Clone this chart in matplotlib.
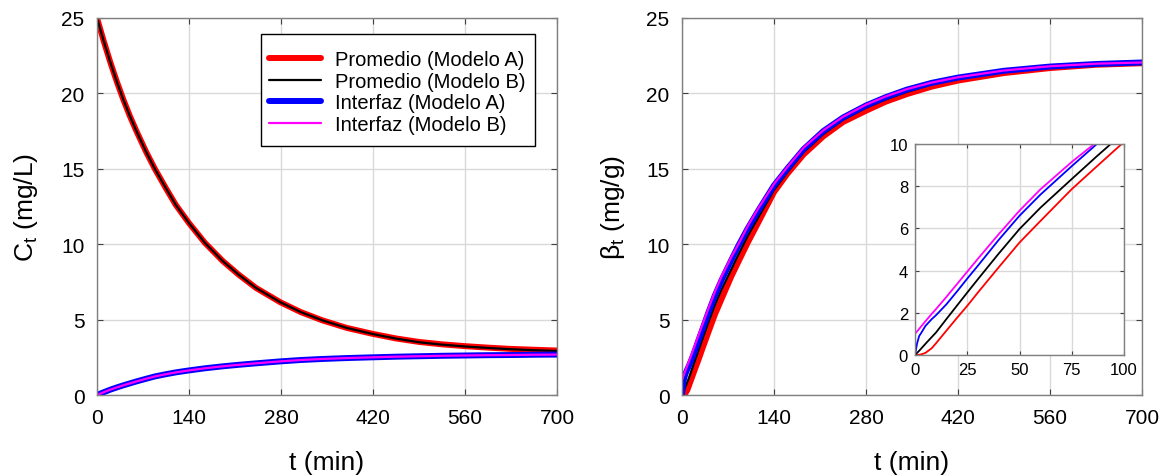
import matplotlib
matplotlib.use("Agg")
import matplotlib.pyplot as plt
from matplotlib.patches import Rectangle

plt.rcParams['font.family'] = ['Liberation Sans', 'DejaVu Sans']
plt.rcParams['mathtext.fontset'] = 'custom'
plt.rcParams['mathtext.rm'] = 'Liberation Sans'
plt.rcParams['mathtext.it'] = 'Liberation Sans'
plt.rcParams['mathtext.default'] = 'regular'

# ---------------- data ----------------
# Left panel: concentration C_t (mg/L)
t_left = [0, 10, 20, 30, 40, 50, 60, 75, 88, 105, 120, 140, 164, 191, 215, 242,
          279, 310, 343, 380, 420, 455, 490, 525, 560, 595, 628, 665, 700]
c_prom_A = [25.0, 23.5, 22.1, 20.8, 19.6, 18.5, 17.5, 16.1, 15.0, 13.7, 12.6, 11.4,
            10.1, 8.9, 8.0, 7.1, 6.15, 5.5, 4.95, 4.45, 4.05, 3.75, 3.52, 3.36,
            3.24, 3.14, 3.06, 3.0, 2.95]
c_prom_B = [25.0, 23.5, 22.1, 20.8, 19.6, 18.5, 17.5, 16.1, 15.0, 13.7, 12.6, 11.4,
            10.1, 8.9, 8.0, 7.1, 6.15, 5.5, 4.95, 4.45, 4.04, 3.74, 3.5, 3.34,
            3.22, 3.12, 3.04, 2.97, 2.92]
c_int_A = [0.0, 0.18, 0.35, 0.5, 0.64, 0.77, 0.9, 1.08, 1.23, 1.38, 1.5, 1.63,
           1.77, 1.9, 2.0, 2.1, 2.23, 2.32, 2.39, 2.45, 2.5, 2.54, 2.57, 2.6,
           2.62, 2.64, 2.65, 2.67, 2.68]
c_int_B = [0.0, 0.18, 0.35, 0.5, 0.64, 0.77, 0.9, 1.08, 1.23, 1.38, 1.5, 1.63,
           1.77, 1.9, 2.0, 2.1, 2.23, 2.32, 2.39, 2.45, 2.5, 2.54, 2.57, 2.6,
           2.62, 2.64, 2.65, 2.67, 2.68]

# Right panel: uptake beta_t (mg/g)
t_right = [0, 1, 2, 3, 5, 8, 10, 15, 20, 25, 30, 40, 50, 60, 75, 87, 100, 115,
           140, 160, 185, 215, 245, 280, 310, 342, 380, 420, 490, 560, 630, 700]
b_prom_A = [0.0, 0.0, 0.01, 0.03, 0.1, 0.32, 0.55, 1.15, 1.75, 2.33, 2.95, 4.15,
            5.33, 6.35, 7.86, 8.94, 10.1, 11.35, 13.45, 14.65, 15.95, 17.15,
            18.1, 18.85, 19.45, 19.95, 20.45, 20.85, 21.35, 21.68, 21.9, 22.0]
b_prom_B = [0.0, 0.1, 0.2, 0.31, 0.53, 0.85, 1.06, 1.7, 2.33, 2.96, 3.58, 4.8,
            5.97, 6.98, 8.34, 9.42, 10.55, 11.7, 13.6, 14.75, 16.1, 17.3, 18.25,
            19.05, 19.6, 20.1, 20.6, 20.97, 21.45, 21.76, 21.97, 22.05]
b_int_A = [0.0, 0.55, 0.9, 1.05, 1.38, 1.7, 1.88, 2.4, 3.0, 3.62, 4.22, 5.45,
           6.6, 7.6, 8.95, 10.0, 11.05, 12.15, 13.9, 15.0, 16.3, 17.5, 18.4,
           19.2, 19.75, 20.25, 20.7, 21.05, 21.5, 21.78, 21.95, 22.05]
b_int_B = [1.0, 1.12, 1.24, 1.36, 1.6, 1.95, 2.17, 2.75, 3.35, 3.95, 4.55, 5.72,
           6.84, 7.85, 9.15, 10.1, 11.2, 12.3, 14.0, 15.1, 16.4, 17.55, 18.45,
           19.25, 19.8, 20.28, 20.72, 21.07, 21.52, 21.8, 21.97, 22.05]

labels = ['Promedio (Modelo A)', 'Promedio (Modelo B)',
          'Interfaz (Modelo A)', 'Interfaz (Modelo B)']
colors = ['#ff0000', '#000000', '#0000ff', '#ff00ff']
widths = [4.3, 1.6, 4.3, 1.6]

x_ticks = [0, 140, 280, 420, 560, 700]
y_ticks = [0, 5, 10, 15, 20, 25]
inset_x_ticks = [0, 25, 50, 75, 100]
inset_y_ticks = [0, 2, 4, 6, 8, 10]

# ---------------- figure ----------------
W, H = 1170, 477
fig = plt.figure(figsize=(W / 100, H / 100), dpi=100)

def px_axes(l, r, b, t):
    return [l / W, 1 - b / H, (r - l) / W, (b - t) / H]

spine_col = '#808080'
grid_col = '#d9d9d9'

def style(ax, fs, pad, length):
    for s in ax.spines.values():
        s.set_color(spine_col)
        s.set_linewidth(1.0)
    ax.tick_params(direction='in', top=True, right=True, labelsize=fs,
                   length=length, width=0.8, color='#404040', pad=pad)
    ax.grid(True, color=grid_col, linewidth=1.0)
    ax.set_axisbelow(True)

ax1 = fig.add_axes(px_axes(97, 557, 396, 19))
ax2 = fig.add_axes(px_axes(682, 1142, 396, 19))

series_left = [c_prom_A, c_prom_B, c_int_A, c_int_B]
series_right = [b_prom_A, b_prom_B, b_int_A, b_int_B]

for y, c, w, lab in zip(series_left, colors, widths, labels):
    ax1.plot(t_left, y, color=c, lw=w, label=lab, solid_capstyle='round',
             solid_joinstyle='round')
for y, c, w in zip(series_right, colors, widths):
    ax2.plot(t_right, y, color=c, lw=w, solid_capstyle='round',
             solid_joinstyle='round')

for ax in (ax1, ax2):
    ax.set_xlim(0, 700)
    ax.set_ylim(0, 25)
    ax.set_xticks(x_ticks)
    ax.set_yticks(y_ticks)
    style(ax, 15, 9, 4)
    ax.set_xlabel('t (min)', fontsize=19, labelpad=17)

ax1.set_ylabel('C$_t$ (mg/L)', fontsize=19, labelpad=15)
ax2.set_ylabel('β$_t$ (mg/g)', fontsize=19, labelpad=14)

# legend box (frame drawn separately to match its padding)
box_l, box_r, box_t, box_b = 261, 535, 35, 147
frame = Rectangle((box_l / W, 1 - box_b / H), (box_r - box_l) / W,
                  (box_b - box_t) / H, transform=fig.transFigure,
                  facecolor='white', edgecolor='black', linewidth=1.0,
                  zorder=4.9)
ax1.add_artist(frame)
frame.set_clip_on(False)
leg = ax1.legend(loc='center', bbox_to_anchor=(397 / W, 1 - 93 / H),
                 bbox_transform=fig.transFigure,
                 borderaxespad=0, fontsize=14.5, frameon=False,
                 handlelength=2.6, labelspacing=0.14, borderpad=0.0,
                 handletextpad=0.7)
leg.set_zorder(5)

# inset
axi = fig.add_axes(px_axes(915, 1124, 356, 145))
for y, c in zip(series_right, colors):
    axi.plot(t_right, y, color=c, lw=1.3)
axi.set_xlim(0, 100)
axi.set_ylim(0, 10)
axi.set_xticks(inset_x_ticks)
axi.set_yticks(inset_y_ticks)
axi.set_facecolor('white')
style(axi, 12, 5, 3)

fig.savefig('out.png', dpi=100)
